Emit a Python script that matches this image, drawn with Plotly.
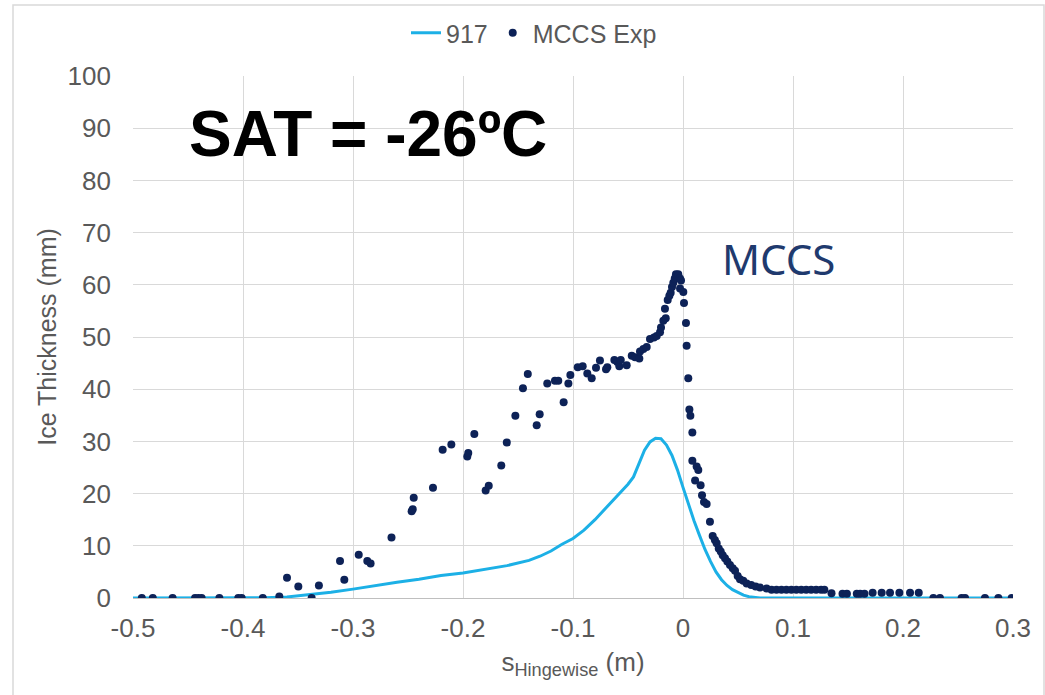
import plotly.graph_objects as go

# ---- data ----
sim_s = [-0.5, -0.45, -0.4, -0.38, -0.36, -0.34, -0.32, -0.30, -0.28, -0.26, -0.24, -0.22,
         -0.20, -0.18, -0.16, -0.14, -0.13, -0.12, -0.11, -0.10, -0.09, -0.08, -0.07, -0.06,
         -0.05, -0.045, -0.04, -0.035, -0.03, -0.025, -0.02, -0.015, -0.01, -0.005, 0.0,
         0.005, 0.01, 0.015, 0.02, 0.025, 0.03, 0.035, 0.04, 0.045, 0.05, 0.055, 0.06,
         0.065, 0.07, 0.08, 0.3]
sim_ice = [0, 0, 0, 0.05, 0.2, 0.6, 1.1, 1.7, 2.4, 3.0, 3.6, 4.3,
           4.8, 5.5, 6.2, 7.2, 8.0, 9.0, 10.3, 11.4, 13.0, 15.0, 17.2, 19.5,
           21.8, 23.2, 25.8, 28.3, 29.9, 30.6, 30.5, 29.3, 27.3, 24.5, 21.2,
           17.8, 14.8, 12.0, 9.3, 7.0, 5.0, 3.5, 2.4, 1.6, 1.0, 0.55, 0.25,
           0.08, 0.02, 0, 0]

exp_s = [-0.492, -0.482, -0.464, -0.4436, -0.4406, -0.4376, -0.4215, -0.4043, -0.4012, -0.382,
         -0.367, -0.360, -0.3497, -0.3376, -0.331, -0.3118, -0.3079, -0.2948, -0.287, -0.284,
         -0.265, -0.2467, -0.2457, -0.2448, -0.2273, -0.2185, -0.2106, -0.1961, -0.1952, -0.1897,
         -0.1794, -0.1766, -0.1652, -0.1602, -0.1524, -0.1455, -0.1411, -0.133, -0.1303, -0.1234,
         -0.1164, -0.1134, -0.1085, -0.1042, -0.1024, -0.0957, -0.0912, -0.087, -0.083, -0.0791,
         -0.0755, -0.070, -0.0688, -0.0624, -0.0597, -0.0579, -0.0566, -0.0512, -0.0466, -0.0436,
         -0.0397, -0.0391, -0.036, -0.033, -0.030, -0.0264, -0.0239, -0.0209, -0.020, -0.0179,
         -0.0164, -0.0157, -0.0139, -0.0124, -0.0112, -0.0100, -0.0088, -0.0075, -0.0064, -0.0043,
         -0.0027, -0.0027, -0.0018, 0.0003, 0.0009, 0.0027, 0.0033, 0.0048, 0.0058, 0.0067,
         0.0085, 0.0085, 0.011, 0.0124, 0.0139, 0.016, 0.0173, 0.0191, 0.0215, 0.0245,
         0.027, 0.029, 0.0306, 0.0325, 0.0343, 0.0361, 0.0382, 0.0403, 0.0427, 0.0452,
         0.0473, 0.0497, 0.0518, 0.0548, 0.0579, 0.062, 0.066, 0.070, 0.076, 0.0805,
         0.085, 0.0895, 0.094, 0.0985, 0.103, 0.1075, 0.112, 0.1165, 0.121, 0.1255,
         0.1285, 0.135, 0.145, 0.149, 0.158, 0.161, 0.165, 0.1724, 0.1806, 0.1882,
         0.1967, 0.2064, 0.2143, 0.2276, 0.2336, 0.2533, 0.2564, 0.2745, 0.2867, 0.2988]
exp_ice = [0, 0, 0, 0, 0, 0, 0, 0, 0, 0,
           0.3, 3.9, 2.2, 0, 2.4, 7.1, 3.5, 8.3, 7.1, 6.6,
           11.6, 16.6, 17.0, 19.2, 21.1, 28.4, 29.4, 27.1, 27.8, 31.4,
           20.6, 21.5, 25.4, 29.8, 34.9, 40.2, 42.9, 33.1, 35.2, 41.1,
           41.6, 41.6, 37.5, 41.1, 42.7, 44.2, 44.4, 43.0, 42.1, 44.1,
           45.5, 43.8, 44.2, 45.6, 45.2, 44.4, 45.6, 44.6, 46.4, 46.1,
           45.9, 47.2, 47.7, 48.1, 49.6, 49.9, 50.2, 50.9, 51.8, 53.1,
           55.4, 53.6, 57.1, 57.9, 58.5, 59.6, 60.4, 61.2, 62.0, 62.0,
           61.2, 59.3, 60.8, 58.6, 56.5, 52.7, 48.3, 42.1, 36.1, 34.9,
           31.7, 26.3, 22.5, 25.2, 24.5, 21.6, 19.7, 18.4, 18.0, 14.6,
           11.9, 11.1, 10.5, 9.5, 8.9, 8.2, 7.6, 7.0, 6.3, 5.7,
           5.2, 4.2, 3.6, 3.3, 2.8, 2.5, 2.2, 2.0, 1.8, 1.6,
           1.6, 1.6, 1.6, 1.6, 1.6, 1.6, 1.6, 1.6, 1.6, 1.6,
           1.6, 0.9, 0.8, 0.8, 0.8, 0.8, 0.8, 1.0, 1.0, 1.0,
           1.0, 1.0, 1.0, 0, 0, 0, 0, 0, 0, 0]

x_tickvals = [-0.5, -0.4, -0.3, -0.2, -0.1, 0, 0.1, 0.2, 0.3]
x_ticktext = ["-0.5", "-0.4", "-0.3", "-0.2", "-0.1", "0", "0.1", "0.2", "0.3"]
y_tickvals = [0, 10, 20, 30, 40, 50, 60, 70, 80, 90, 100]
y_ticktext = ["0", "10", "20", "30", "40", "50", "60", "70", "80", "90", "100"]

FONT = "Liberation Sans, Arial, sans-serif"
GRAY = "#595959"
GRID = "#d9d9d9"

fig = go.Figure()
fig.add_trace(go.Scatter(x=sim_s, y=sim_ice, mode="lines", name="917",
                         line=dict(color="#1cb0e6", width=3)))
fig.add_trace(go.Scatter(x=exp_s, y=exp_ice, mode="markers", name="MCCS Exp",
                         marker=dict(color="#0d2257", size=8)))

fig.update_layout(
    width=1045, height=695,
    margin=dict(l=133, r=32, t=76, b=97, autoexpand=False),
    paper_bgcolor="white", plot_bgcolor="white",
    font=dict(family=FONT, color=GRAY, size=25),
    showlegend=True,
    legend=dict(orientation="h", xref="container", yref="container",
                x=0.511, xanchor="center", y=0.9525, yanchor="middle",
                font=dict(size=25, color=GRAY), bgcolor="rgba(0,0,0,0)"),
    xaxis=dict(range=[-0.5, 0.3], tickvals=x_tickvals, ticktext=x_ticktext,
               showgrid=True, gridcolor=GRID, gridwidth=1, zeroline=False,
               showline=True, linecolor="#bfbfbf", linewidth=1, ticks="",
               ticklabelstandoff=7,
               tickfont=dict(size=26, color=GRAY),
               title=dict(text="s<sub>Hingewise</sub> (m)", font=dict(size=26, color=GRAY),
                          standoff=10)),
    yaxis=dict(range=[0, 100], tickvals=y_tickvals, ticktext=y_ticktext,
               showgrid=True, gridcolor=GRID, gridwidth=1, zeroline=False,
               showline=False, ticks="", ticklabelstandoff=21,
               tickfont=dict(size=26, color=GRAY),
               title=dict(text="Ice Thickness (mm)", font=dict(size=25, color=GRAY),
                          standoff=3)),
)

fig.add_annotation(x=-0.2868, y=88.9, xref="x", yref="y", text="<b>SAT = -26ºC</b>",
                   showarrow=False, xanchor="center", yanchor="middle",
                   font=dict(family=FONT, size=64, color="black"))
fig.add_annotation(x=0.0868, y=65.1, xref="x", yref="y", text="MCCS",
                   showarrow=False, xanchor="center", yanchor="middle",
                   font=dict(family="Noto Sans, sans-serif", size=42, color="#1f3a6e"))

# outer frame of the slide picture
fig.add_shape(type="rect", xref="paper", yref="paper",
              x0=(13 - 133) / 880, x1=(1044 - 133) / 880,
              y0=(598 - 700) / 522, y1=(598 - 5) / 522,
              line=dict(color="#d9d9d9", width=1.5), layer="below")
fig.write_html("out.html")
